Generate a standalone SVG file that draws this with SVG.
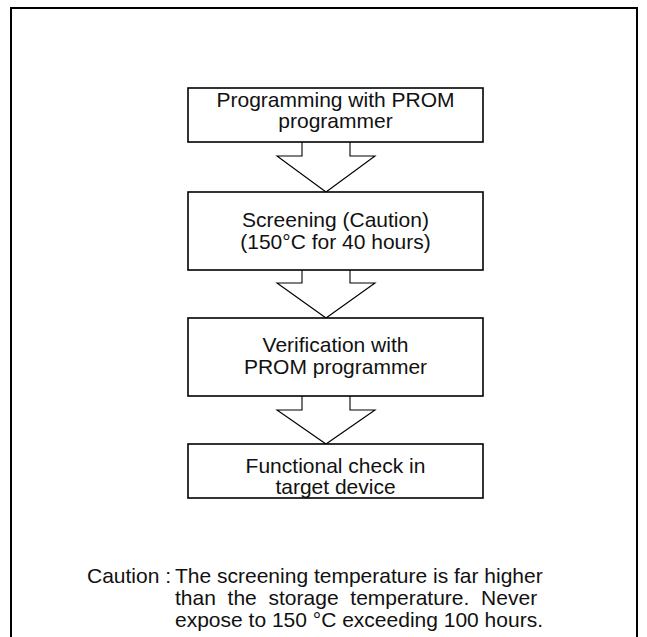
<svg xmlns="http://www.w3.org/2000/svg" width="647" height="637" viewBox="0 0 647 637">
<style>
.frame{fill:none;stroke:#000;stroke-width:2}
.box{fill:#fff;stroke:#000;stroke-width:1.6}
.arrow{fill:#fff;stroke:#000;stroke-width:1.1;stroke-linejoin:miter}
text{font-family:"Liberation Sans",Arial,sans-serif;font-size:21px;fill:#111}
.c{text-anchor:middle}
</style>
<rect width="647" height="637" fill="#fff"/>
<path class="frame" d="M11,640 V8 H637 V640"/>
<g id="connectors">
<polyline class="arrow" points="302,142 302,156 277,156 326,192 375,156 350,156 350,142"/>
<polyline class="arrow" points="302,270 302,283 277,283 326,318 375,283 350,283 350,270"/>
<polyline class="arrow" points="302,396 302,410 277,410 326,444 375,410 350,410 350,396"/>
</g>
<g id="node1">
<rect class="box" x="188" y="88" width="295" height="54"/>
<text class="c" x="335.5" y="106.7">Programming with PROM</text>
<text class="c" x="335.5" y="127.7">programmer</text>
</g>
<g id="node2">
<rect class="box" x="188" y="192" width="295" height="78"/>
<text class="c" x="335.5" y="226.7">Screening (Caution)</text>
<text class="c" x="335.5" y="249">(150°C for 40 hours)</text>
</g>
<g id="node3">
<rect class="box" x="188" y="318" width="295" height="78"/>
<text class="c" x="335.5" y="351.7">Verification with</text>
<text class="c" x="335.5" y="374">PROM programmer</text>
</g>
<g id="node4">
<rect class="box" x="188" y="444" width="295" height="54"/>
<text class="c" x="335.5" y="473">Functional check in</text>
<text class="c" x="335.5" y="494">target device</text>
</g>
<g id="caution">
<text x="87" y="583">Caution :</text>
<text x="175" y="583">The screening temperature is far higher</text>
<text x="175" y="605" word-spacing="5.9">than the storage temperature. Never</text>
<text x="175" y="627">expose to 150 °C exceeding 100 hours.</text>
</g>
</svg>
